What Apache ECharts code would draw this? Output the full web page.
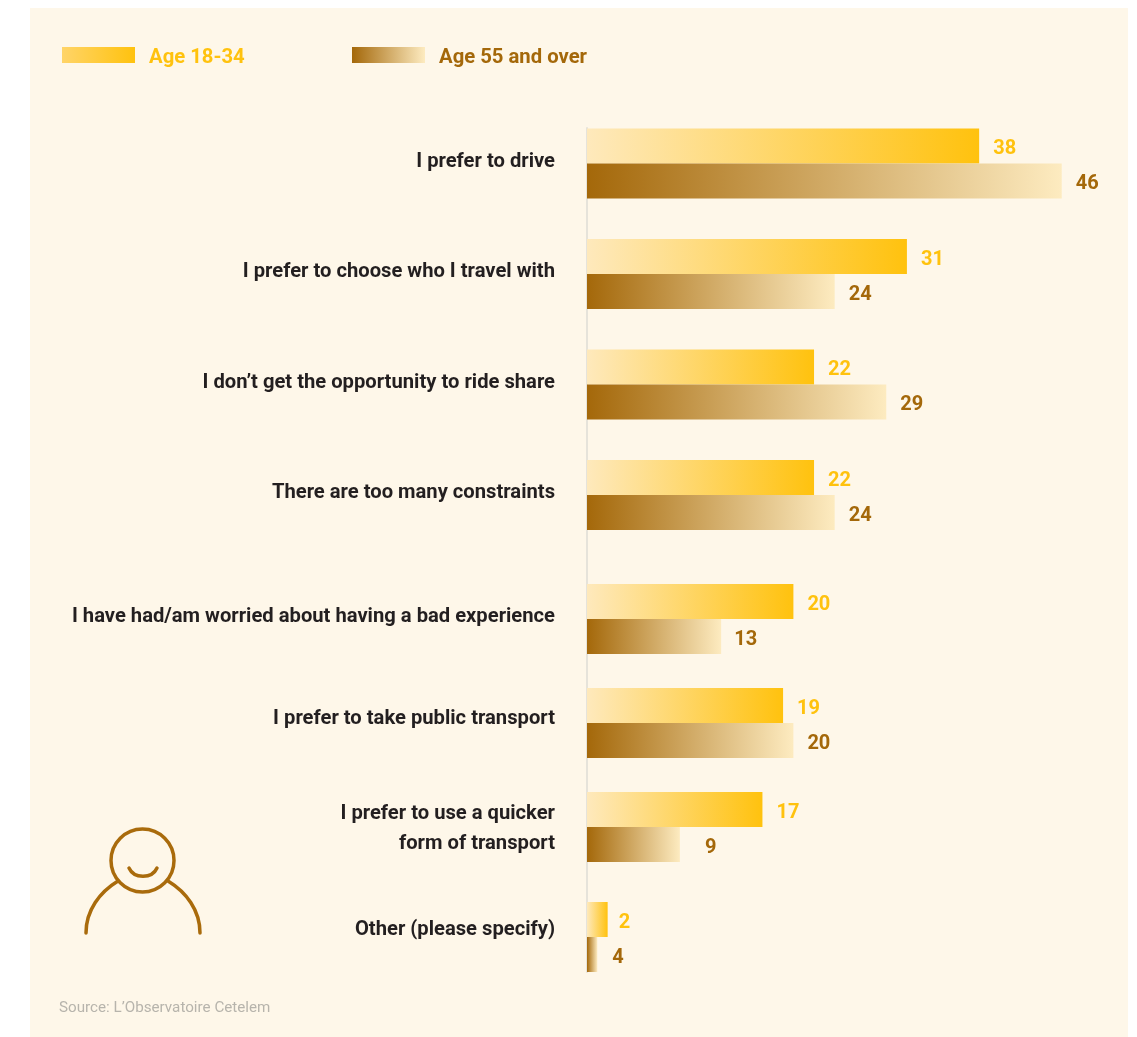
<!DOCTYPE html>
<html>
<head>
<meta charset="utf-8">
<style>html,body{margin:0;padding:0;background:#fff}#chart{width:1137px;height:1037px}</style>
<script src="https://cdn.jsdelivr.net/npm/echarts@6/dist/echarts.min.js"></script>
</head>
<body>
<div id="chart"></div>
<script>
const categories = [
  "I prefer to drive",
  "I prefer to choose who I travel with",
  "I don\u2019t get the opportunity to ride share",
  "There are too many constraints",
  "I have had/am worried about having a bad experience",
  "I prefer to take public transport",
  "I prefer to use a quicker\nform of transport",
  "Other (please specify)"
];
const young = [38, 31, 22, 22, 20, 19, 17, 2];
// Bar lengths as drawn; the last bar in the reference is far shorter than its printed label.
const older = [46, 24, 29, 24, 13, 20, 9, 1];
const olderLabels = [46, 24, 29, 24, 13, 20, 9, 4];
const seriesNames = ["Age 18-34", "Age 55 and over"];

const rowCentres = [163.5, 274, 384.5, 495, 619, 723, 827, 937];
const rowHalf = [35.5, 78, 78, 78, 78, 78, 78, 35];
const labelRaise = [2, 2, 2, 2, 2, 4, 0, 7];
const youngLabelDx = [0, 0, 0, 0, 0, 0, 0, -3];
const olderLabelDx = [0, 0, 0, 0, -1, 0, 11, 1];
const FONT = "Roboto,sans-serif";
const YELLOW = "#FFC20E", BROWN = "#A4680A", ICON = "#A96B0C";
const grad = (stops) => ({type:"linear",x:0,y:0,x2:1,y2:0,global:false,
  colorStops:stops.map((c,i)=>({offset:i/(stops.length-1),color:c}))});
const youngGrad = grad(["#FEE9BC", YELLOW]);
const olderGrad = grad([BROWN, "#FDEBC0"]);

const grids=[],xAxes=[],yAxes=[],series=[];
categories.forEach((cat,i)=>{
  const up=labelRaise[i];
  const multi=cat.includes("\n");
  const baseLabel={margin:32,color:"#231F20",fontFamily:FONT,fontWeight:"bold",fontSize:20.2,align:"right"};
  const rich={s:{lineHeight:4,fontSize:2},a:{lineHeight:30,color:"#231F20",fontFamily:FONT,fontWeight:"bold",fontSize:20.2,align:"right"}};
  const axisLabel = multi
    ? Object.assign(baseLabel,{rich,formatter:(v)=>"{s| }\n"+v.split("\n").map(t=>"{a|"+t+"}").join("\n")})
    : Object.assign(baseLabel,{verticalAlign:"bottom",lineHeight:2*up});
  grids.push({left:587,width:516,top:rowCentres[i]-rowHalf[i],height:rowHalf[i]*2});
  xAxes.push({type:"value",gridIndex:i,min:0,max:50,show:false});
  yAxes.push({type:"category",gridIndex:i,data:[cat],inverse:true,
    axisTick:{show:false},
    axisLine:{show:true,lineStyle:{color:"#E6E3DA",width:2}},
    axisLabel});
  const lab=(color,f,dx)=>({show:true,position:"right",distance:14,offset:[dx,3],color,fontFamily:FONT,fontWeight:"bold",fontSize:20,formatter:f});
  series.push({type:"bar",name:seriesNames[0],xAxisIndex:i,yAxisIndex:i,barWidth:35,barGap:"0%",
    data:[young[i]],itemStyle:{color:youngGrad},label:lab(YELLOW,String(young[i]),youngLabelDx[i]),emphasis:{disabled:true}});
  series.push({type:"bar",name:seriesNames[1],xAxisIndex:i,yAxisIndex:i,barWidth:35,barGap:"0%",
    data:[older[i]],itemStyle:{color:olderGrad},label:lab(BROWN,String(olderLabels[i]),olderLabelDx[i]),emphasis:{disabled:true}});
});

const chart=echarts.init(document.getElementById("chart"),null,{renderer:"canvas"});
const legendBase={top:42,itemWidth:73,itemHeight:16,icon:"rect",selectedMode:false,padding:0,
  formatter:(name)=>"{s| }\n{t|"+name+"}"};
const lineStyle={fill:"none",stroke:ICON,lineWidth:3.5,lineCap:"round"};
const legendText=(color)=>({rich:{s:{lineHeight:6,fontSize:2},
  t:{color,fontFamily:FONT,fontWeight:"bold",fontSize:20.3,lineHeight:24,padding:[0,0,0,9]}}});
chart.setOption({
  animation:false,
  backgroundColor:"#ffffff",
  grid:grids,xAxis:xAxes,yAxis:yAxes,series,
  legend:[
    Object.assign({},legendBase,{left:62,textStyle:legendText(YELLOW),data:[{name:seriesNames[0],itemStyle:{color:grad(["#FFD468",YELLOW])}}]}),
    Object.assign({},legendBase,{left:352,textStyle:legendText(BROWN),data:[{name:seriesNames[1],itemStyle:{color:olderGrad}}]})
  ],
  title:{text:"Source: L\u2019Observatoire Cetelem",left:59,top:1001,padding:0,
    textStyle:{color:"#B7B4AC",fontFamily:FONT,fontWeight:"normal",fontSize:15.2}},
  graphic:[
    {type:"rect",silent:true,z:-10,shape:{x:30,y:8,width:1098,height:1029},style:{fill:"#FEF7E9"}},
    {type:"circle",silent:true,shape:{cx:142.5,cy:860.5,r:31.5},style:{fill:"none",stroke:ICON,lineWidth:3.5}},
    {type:"bezierCurve",silent:true,shape:{x1:129,y1:868,cpx1:134,cpy1:879,cpx2:152,cpy2:879,x2:157,y2:868},style:lineStyle},
    {type:"bezierCurve",silent:true,shape:{x1:86,y1:933,cpx1:86,cpy1:910,cpx2:100,cpy2:892,x2:118,y2:881},style:lineStyle},
    {type:"bezierCurve",silent:true,shape:{x1:168,y1:881,cpx1:186,cpy1:892,cpx2:200,cpy2:910,x2:200,y2:933},style:lineStyle}
  ]
});
</script>
</body>
</html>
